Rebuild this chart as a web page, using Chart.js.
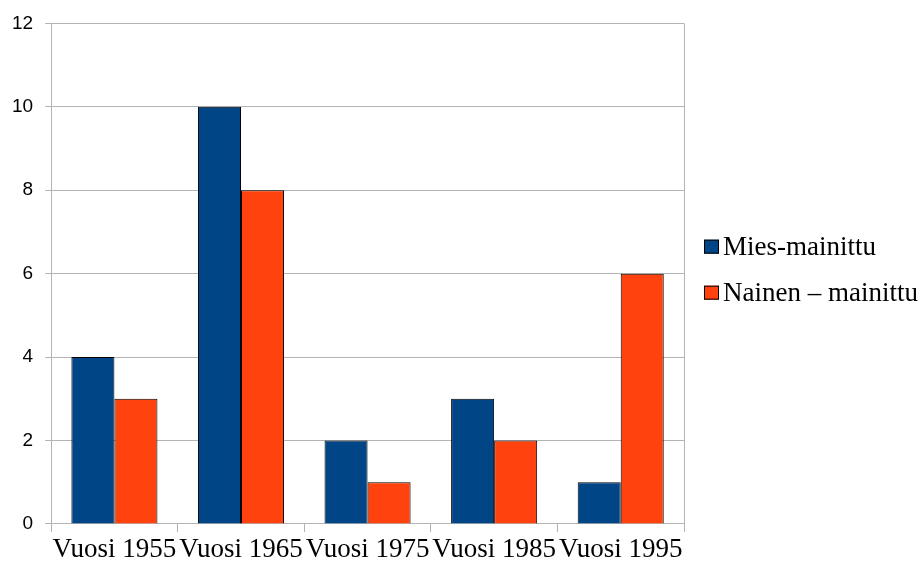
<!DOCTYPE html>
<html>
<head>
<meta charset="utf-8">
<script src="https://cdn.jsdelivr.net/npm/chart.js@4/dist/chart.umd.min.js"></script>
<style>
  html, body { margin: 0; padding: 0; background: #fff; }
  #wrap { width: 920px; height: 567px; }
</style>
</head>
<body>
<div id="wrap"><canvas id="myChart"></canvas></div>
<script>
// data
const categories = ["Vuosi 1955", "Vuosi 1965", "Vuosi 1975", "Vuosi 1985", "Vuosi 1995"];
const miesValues = [4, 10, 2, 3, 1];
const nainenValues = [3, 8, 1, 2, 6];
const seriesLabels = ["Mies-mainittu", "Nainen – mainittu"];
const seriesColors = ["#004586", "#ff420e"];

// right edge of plot area + legend on the right (LibreOffice look)
const frameAndLegend = {
  id: "frameAndLegend",
  afterDatasetsDraw(chart) {
    const { ctx, chartArea } = chart;
    ctx.save();
    ctx.strokeStyle = "#b3b3b3";
    ctx.lineWidth = 1;
    ctx.beginPath();
    ctx.moveTo(chartArea.right + 0.5, chartArea.top);
    ctx.lineTo(chartArea.right + 0.5, chartArea.bottom);
    ctx.stroke();

    const x0 = chartArea.right + 20;
    let y = (chartArea.top + chartArea.bottom) / 2 - 27;
    ctx.font = "27px 'Liberation Serif'";
    ctx.textBaseline = "middle";
    chart.data.datasets.forEach((ds) => {
      ctx.fillStyle = ds.backgroundColor;
      ctx.fillRect(x0, y - 7, 15, 14);
      ctx.strokeStyle = "#000";
      ctx.strokeRect(x0 + 0.5, y - 6.5, 14, 13);
      ctx.fillStyle = "#000";
      ctx.fillText(ds.label, x0 + 19, y + 1);
      y += 46;
    });
    ctx.restore();
  },
};

const ctx = document.getElementById("myChart").getContext("2d");

new Chart(ctx, {
  type: "bar",
  data: {
    labels: categories,
    datasets: [
      {
        label: seriesLabels[0],
        data: miesValues,
        backgroundColor: seriesColors[0],
        borderColor: "#000000",
        borderWidth: 1,
      },
      {
        label: seriesLabels[1],
        data: nainenValues,
        backgroundColor: seriesColors[1],
        borderColor: "#000000",
        borderWidth: 1,
      },
    ],
  },
  options: {
    responsive: true,
    maintainAspectRatio: false,
    animation: false,
    layout: { padding: { top: 23, left: 0, right: 236, bottom: 0 } },
    datasets: {
      bar: { categoryPercentage: 0.68, barPercentage: 1.0 },
    },
    plugins: {
      tooltip: { enabled: false },
      legend: { display: false },
    },
    scales: {
      x: {
        grid: {
          offset: true,
          drawOnChartArea: false,
          drawTicks: true,
          tickLength: 8,
          color: "#b3b3b3",
        },
        border: { color: "#b3b3b3" },
        ticks: {
          color: "#000",
          font: { family: "Liberation Serif", size: 27, lineHeight: 0.78 },
          maxRotation: 0,
          minRotation: 0,
          autoSkip: false,
          padding: 7,
        },
      },
      y: {
        min: 0,
        max: 12,
        grid: { color: "#b3b3b3", tickLength: 6 },
        border: { color: "#b3b3b3" },
        ticks: {
          stepSize: 2,
          color: "#000",
          font: { family: "Liberation Sans", size: 19 },
          padding: 12,
        },
      },
    },
  },
  plugins: [frameAndLegend],
});
</script>
</body>
</html>
